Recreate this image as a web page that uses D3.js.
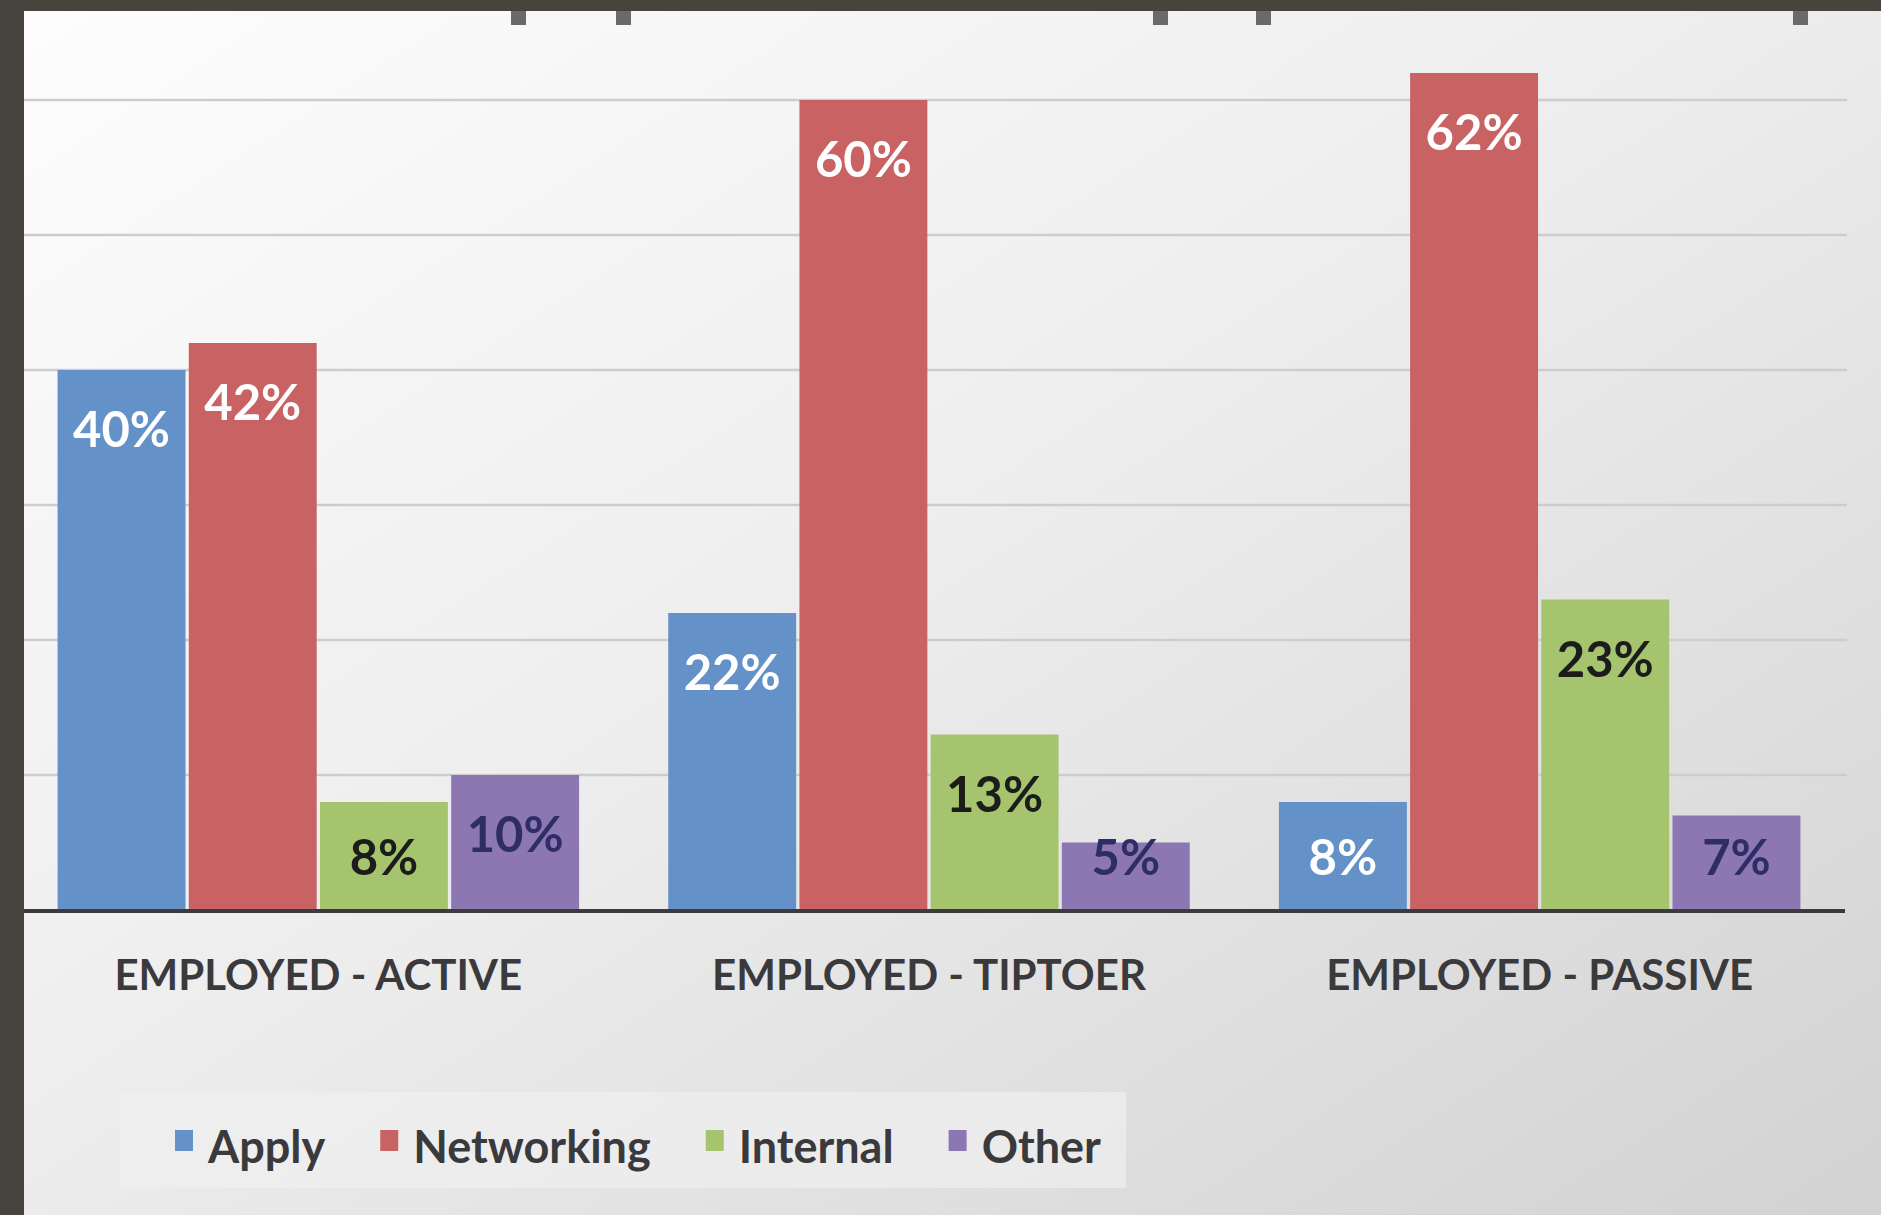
<!DOCTYPE html>
<html>
<head>
<meta charset="utf-8">
<script src="https://cdn.jsdelivr.net/npm/d3@7/dist/d3.min.js"></script>
<style>
  body { margin: 0; background: #47443d; }
  svg { display: block; }
</style>
</head>
<body>
<script>
// --- Data ---
var categories = ["EMPLOYED - ACTIVE", "EMPLOYED - TIPTOER", "EMPLOYED - PASSIVE"];
var series = ["Apply", "Networking", "Internal", "Other"];
var apply = [40, 22, 8];
var networking = [42, 60, 62];
var internal = [8, 13, 23];
var other = [10, 5, 7];
var gridTicks = [10, 20, 30, 40, 50, 60];

var values = { Apply: apply, Networking: networking, Internal: internal, Other: other };

var w = 1881, h = 1215;
var colors = { Apply: "#6491c7", Networking: "#c96363", Internal: "#a6c46e", Other: "#8d77b3" };
var labelColors = { Apply: "#ffffff", Networking: "#ffffff", Internal: "#1c1c1c", Other: "#2f2d66" };

var svg = d3.select("body").append("svg")
    .attr("width", w)
    .attr("height", h);

// background panel with soft gradient
var defs = svg.append("defs");
var grad = defs.append("linearGradient")
    .attr("id", "bg")
    .attr("x1", "0").attr("y1", "0")
    .attr("x2", "1").attr("y2", "1");
grad.append("stop").attr("offset", "0%").attr("stop-color", "#fdfdfd");
grad.append("stop").attr("offset", "45%").attr("stop-color", "#eeeeee");
grad.append("stop").attr("offset", "100%").attr("stop-color", "#d2d2d2");

svg.append("rect")
    .attr("width", w).attr("height", h)
    .style("fill", "#47443d");

svg.append("rect")
    .attr("x", 24).attr("y", 11)
    .attr("width", w - 24).attr("height", h - 11)
    .style("fill", "url(#bg)");

// small dark marks hanging from the top edge
[511, 616, 1153, 1256, 1793].forEach(function(x) {
    svg.append("rect")
        .attr("x", x).attr("y", 11)
        .attr("width", 15).attr("height", 14)
        .style("fill", "#6a6a6a");
});

// --- Scales ---
var baseline = 910;
var y = d3.scaleLinear()
    .domain([0, 60])
    .range([baseline, 100]);

var x0 = d3.scaleBand()
    .domain(categories)
    .range([13, 1845])
    .paddingInner(0.146)
    .paddingOuter(0.073);

var x1 = d3.scaleBand()
    .domain(series)
    .range([0, x0.bandwidth()])
    .paddingInner(0.025)
    .paddingOuter(0);

// --- Gridlines ---
svg.append("g")
    .attr("class", "grid")
    .selectAll("line")
    .data(gridTicks)
    .enter()
    .append("line")
    .attr("x1", 24)
    .attr("x2", 1847)
    .attr("y1", d => y(d))
    .attr("y2", d => y(d))
    .style("stroke", "#cdcdcd")
    .style("stroke-width", 2.5);

// --- Bars ---
var rows = [];
categories.forEach(function(c, i) {
    series.forEach(function(s) {
        rows.push({ cat: c, key: s, value: values[s][i] });
    });
});

svg.append("g")
    .selectAll("rect")
    .data(rows)
    .enter()
    .append("rect")
    .attr("x", d => x0(d.cat) + x1(d.key))
    .attr("y", d => y(d.value))
    .attr("width", x1.bandwidth())
    .attr("height", d => baseline - y(d.value))
    .style("fill", d => colors[d.key]);

// --- Baseline ---
svg.append("line")
    .attr("x1", 24).attr("x2", 1845)
    .attr("y1", baseline + 1).attr("y2", baseline + 1)
    .style("stroke", "#3a3a40")
    .style("stroke-width", 4);

// --- Value labels ---
svg.append("g")
    .selectAll("text")
    .data(rows)
    .enter()
    .append("text")
    .attr("x", d => x0(d.cat) + x1(d.key) + x1.bandwidth() / 2)
    .attr("y", d => Math.min(y(d.value) + 60, baseline - 52))
    .attr("dy", "0.35em")
    .attr("text-anchor", "middle")
    .style("font-family", "Lato, 'Open Sans', sans-serif")
    .style("font-weight", "bold")
    .style("font-size", "49px")
    .style("fill", d => labelColors[d.key])
    .text(d => d.value + "%");

// --- Category axis labels ---
svg.append("g")
    .selectAll("text")
    .data(categories)
    .enter()
    .append("text")
    .attr("x", d => x0(d) + x0.bandwidth() / 2)
    .attr("y", 975)
    .attr("dy", "0.35em")
    .attr("text-anchor", "middle")
    .style("font-family", "Lato, 'Open Sans', sans-serif")
    .style("font-weight", "bold")
    .style("font-size", "42px")
    .style("fill", "#3a3a3c")
    .text(d => d);

// --- Legend ---
svg.append("rect")
    .attr("x", 120).attr("y", 1092)
    .attr("width", 1006).attr("height", 96)
    .style("fill", "#f0f0f0")
    .style("opacity", 0.7);

var legend = svg.append("g").attr("class", "legend");
var lx = 175;
series.forEach(function(s) {
    legend.append("rect")
        .attr("x", lx).attr("y", 1130)
        .attr("width", 18).attr("height", 21)
        .style("fill", colors[s]);
    var t = legend.append("text")
        .attr("x", lx + 33)
        .attr("y", 1147)
        .attr("dy", "0.35em")
        .style("font-family", "Lato, 'Open Sans', sans-serif")
        .style("font-weight", "bold")
        .style("font-size", "45px")
        .style("fill", "#3a3a3c")
        .text(s);
    lx += 33 + t.node().getComputedTextLength() + 55;
});
</script>
</body>
</html>
